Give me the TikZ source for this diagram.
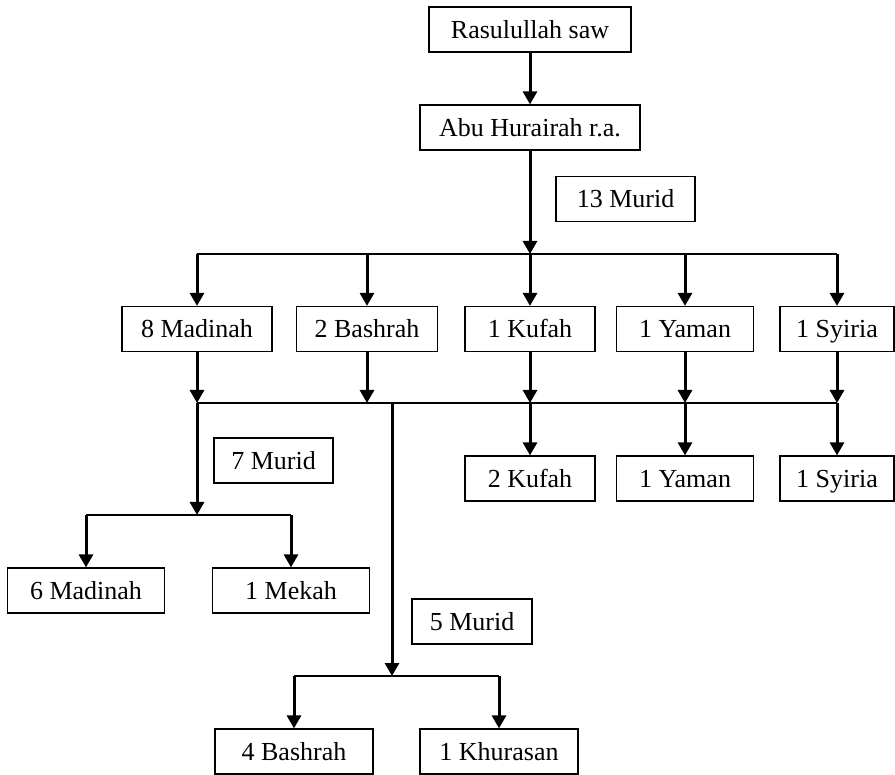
\documentclass[tikz,border=0pt]{standalone}
\usepackage{fontspec}
\setmainfont{Liberation Serif}
\usetikzlibrary{arrows.meta, positioning}

\begin{document}
\begin{tikzpicture}[x=1pt, y=-1pt,
    box/.style={draw, line width=1.2pt, minimum height=45pt, inner sep=0pt,
                text height=18pt, text depth=0pt,
                font=\fontsize{26}{30}\selectfont},
    arr/.style={line width=3pt, -{Triangle[width=14pt,length=13pt]}},
    bar/.style={line width=1.5pt}]
    \useasboundingbox (0,0) rectangle (895,775);
    % top
    \node[box, minimum width=202pt] (rasul) at (530,29.5) {Rasulullah saw};
    \node[box, minimum width=220pt] (abu) at (530,127.5) {Abu Hurairah r.a.};
    \node[box, minimum width=139pt] (m13) at (625.5,199) {13 Murid};
    % first level
    \node[box, minimum width=150pt] (mad8) at (197,329) {8 Madinah};
    \node[box, minimum width=141pt] (bas2) at (367,329) {2 Bashrah};
    \node[box, minimum width=130pt] (kuf1) at (530,329) {1 Kufah};
    \node[box, minimum width=137pt] (yam1) at (685,329) {1 Yaman};
    \node[box, minimum width=114pt] (syi1) at (837,329) {1 Syiria};
    % second level
    \node[box, minimum width=130pt] (kuf2) at (530,478.5) {2 Kufah};
    \node[box, minimum width=137pt] (yam2) at (685,478.5) {1 Yaman};
    \node[box, minimum width=114pt] (syi2) at (837,478.5) {1 Syiria};
    \node[box, minimum width=119pt] (m7) at (273.5,460.5) {7 Murid};
    \node[box, minimum width=157pt] (mad6) at (86,590.5) {6 Madinah};
    \node[box, minimum width=157pt] (mek1) at (291,590.5) {1 Mekah};
    \node[box, minimum width=120pt] (m5) at (472,621.5) {5 Murid};
    \node[box, minimum width=158pt] (bas4) at (294,751.5) {4 Bashrah};
    \node[box, minimum width=158pt] (khu1) at (499,751.5) {1 Khurasan};
    % junctions
    \coordinate (j1) at (530,254);
    \coordinate (j2) at (392,403);
    \coordinate (j3) at (197,515);
    \coordinate (j4) at (392,676);

    \draw[arr] (rasul) -- (abu);
    \draw[arr] (abu) -- (j1);
    \draw[bar] (mad8 |- j1) -- (syi1 |- j1);
    \foreach \n in {mad8, bas2, kuf1, yam1, syi1}
        \draw[arr] (\n |- j1) -- (\n);
    \foreach \n in {mad8, bas2, kuf1, yam1, syi1}
        \draw[arr] (\n) -- (\n |- j2);
    \draw[bar] (mad8 |- j2) -- (syi1 |- j2);
    \foreach \a/\b in {kuf1/kuf2, yam1/yam2, syi1/syi2}
        \draw[arr] (\a |- j2) -- (\b);
    % madinah branch
    \draw[arr] (mad8 |- j2) -- (j3);
    \draw[bar] (mad6 |- j3) -- (mek1 |- j3);
    \draw[arr] (mad6 |- j3) -- (mad6);
    \draw[arr] (mek1 |- j3) -- (mek1);
    % bashrah branch
    \draw[arr] (j2) -- (j4);
    \draw[bar] (bas4 |- j4) -- (khu1 |- j4);
    \draw[arr] (bas4 |- j4) -- (bas4);
    \draw[arr] (khu1 |- j4) -- (khu1);
\end{tikzpicture}
\end{document}
